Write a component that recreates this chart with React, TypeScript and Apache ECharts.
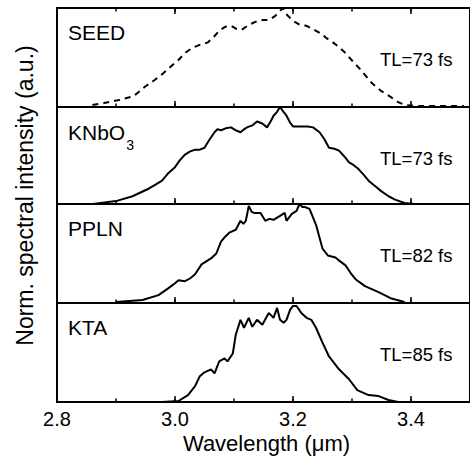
import React, { useEffect, useRef } from "react";
import * as echarts from "echarts";

// ---- data ----
const xTicks = [2.8, 3.0, 3.2, 3.4];
const panelNames = ["SEED", "KNbO3", "PPLN", "KTA"];
const tlLabels = ["TL=73 fs", "TL=73 fs", "TL=82 fs", "TL=85 fs"];

const seedWl = [2.86, 2.88, 2.905, 2.93, 2.95, 2.965, 2.98, 2.993, 3.005, 3.018, 3.03, 3.043, 3.055, 3.066, 3.075, 3.085, 3.095, 3.104, 3.113, 3.125, 3.14, 3.15, 3.16, 3.17, 3.178, 3.183, 3.19, 3.2, 3.212, 3.223, 3.236, 3.248, 3.258, 3.266, 3.277, 3.288, 3.3, 3.314, 3.324, 3.334, 3.35, 3.366, 3.378, 3.39, 3.405, 3.42, 3.45, 3.49];
const seedI = [0.02, 0.04, 0.07, 0.11, 0.21, 0.27, 0.34, 0.41, 0.47, 0.55, 0.6, 0.63, 0.65, 0.71, 0.77, 0.81, 0.82, 0.79, 0.78, 0.83, 0.87, 0.88, 0.88, 0.92, 0.97, 1.0, 0.93, 0.87, 0.83, 0.82, 0.78, 0.74, 0.69, 0.66, 0.61, 0.55, 0.47, 0.38, 0.31, 0.24, 0.16, 0.1, 0.05, 0.02, 0.012, 0.01, 0.01, 0.01];

const knbWl = [2.861, 2.9, 2.928, 2.956, 2.967, 2.978, 2.989, 3.0, 3.008, 3.017, 3.025, 3.034, 3.042, 3.05, 3.058, 3.067, 3.072, 3.078, 3.086, 3.095, 3.103, 3.111, 3.117, 3.122, 3.131, 3.139, 3.148, 3.156, 3.162, 3.167, 3.173, 3.178, 3.184, 3.189, 3.195, 3.2, 3.208, 3.217, 3.225, 3.234, 3.245, 3.253, 3.261, 3.27, 3.278, 3.287, 3.295, 3.303, 3.311, 3.32, 3.328, 3.34, 3.35, 3.362, 3.373, 3.389, 3.406];
const knbI = [0.0, 0.03, 0.08, 0.16, 0.2, 0.24, 0.32, 0.38, 0.45, 0.51, 0.54, 0.56, 0.56, 0.58, 0.66, 0.74, 0.77, 0.76, 0.78, 0.79, 0.76, 0.74, 0.77, 0.79, 0.81, 0.85, 0.83, 0.79, 0.85, 0.91, 0.95, 1.0, 0.95, 0.91, 0.84, 0.8, 0.8, 0.8, 0.8, 0.79, 0.74, 0.67, 0.58, 0.57, 0.55, 0.49, 0.43, 0.4, 0.36, 0.3, 0.24, 0.18, 0.13, 0.08, 0.045, 0.01, 0.0];

const pplnWl = [2.9, 2.945, 2.972, 2.989, 3.0, 3.006, 3.017, 3.026, 3.034, 3.045, 3.053, 3.061, 3.07, 3.078, 3.085, 3.092, 3.103, 3.111, 3.116, 3.12, 3.125, 3.13, 3.134, 3.145, 3.153, 3.16, 3.167, 3.178, 3.186, 3.189, 3.198, 3.206, 3.211, 3.216, 3.22, 3.228, 3.239, 3.25, 3.259, 3.272, 3.28, 3.289, 3.298, 3.306, 3.322, 3.345, 3.367, 3.389];
const pplnI = [0.01, 0.03, 0.08, 0.15, 0.2, 0.23, 0.22, 0.25, 0.29, 0.39, 0.42, 0.45, 0.5, 0.62, 0.67, 0.71, 0.74, 0.83, 0.8, 0.83, 0.98, 0.92, 0.91, 0.91, 0.83, 0.85, 0.84, 0.88, 0.91, 0.83, 0.9, 0.93, 1.0, 0.97, 0.97, 0.95, 0.79, 0.55, 0.48, 0.46, 0.42, 0.38, 0.3, 0.24, 0.17, 0.11, 0.045, 0.01];

const ktaWl = [2.978, 3.006, 3.022, 3.034, 3.042, 3.05, 3.061, 3.067, 3.075, 3.084, 3.089, 3.098, 3.103, 3.111, 3.117, 3.125, 3.131, 3.139, 3.148, 3.159, 3.167, 3.173, 3.178, 3.184, 3.189, 3.195, 3.2, 3.206, 3.214, 3.223, 3.231, 3.239, 3.25, 3.261, 3.278, 3.295, 3.309, 3.328, 3.345, 3.362, 3.378];
const ktaI = [0.0, 0.01, 0.07, 0.16, 0.26, 0.3, 0.33, 0.29, 0.41, 0.44, 0.41, 0.49, 0.68, 0.83, 0.75, 0.85, 0.76, 0.83, 0.78, 0.9, 0.85, 0.95, 0.83, 0.8, 0.83, 0.93, 0.97, 0.97, 0.9, 0.85, 0.83, 0.75, 0.6, 0.46, 0.33, 0.23, 0.12, 0.07, 0.06, 0.02, 0.0];

const seriesWl = [seedWl, knbWl, pplnWl, ktaWl];
const seriesI = [seedI, knbI, pplnI, ktaI];

// ---- layout ----
const FONT = "'Liberation Sans', Arial, Helvetica, sans-serif";
const BOUNDS = [8, 107, 204, 303, 402];
const LEFT = 57;
const WIDTH = 420;

export default function App() {
  const ref = useRef<HTMLDivElement>(null);

  useEffect(() => {
    if (!ref.current) return;
    const chart = echarts.init(ref.current, null, { renderer: "svg" });

    const grids: any[] = [];
    const xAxes: any[] = [];
    const yAxes: any[] = [];
    const series: any[] = [];
    const graphics: any[] = [];

    const mkAxis = (i: number, pos: string, interval: number, len: number, labels: boolean) => ({
      gridIndex: i,
      type: "value",
      position: pos,
      min: 2.8,
      max: 3.5,
      interval,
      axisLine: { show: false },
      axisTick: { show: true, inside: true, length: len, lineStyle: { color: "#000", width: 1.5 } },
      axisLabel: labels
        ? {
            show: true,
            margin: 7,
            fontSize: 20,
            color: "#000",
            fontFamily: FONT,
            showMaxLabel: false,
            formatter: (v: number) => (xTicks.some((t) => Math.abs(t - v) < 1e-6) ? v.toFixed(1) : ""),
          }
        : { show: false },
      splitLine: { show: false },
    });

    for (let i = 0; i < 4; i++) {
      const top = BOUNDS[i];
      const h = BOUNDS[i + 1] - BOUNDS[i];
      grids.push({
        left: LEFT,
        width: WIDTH,
        top,
        height: h,
        show: true,
        borderColor: "#000",
        borderWidth: 2,
        backgroundColor: "transparent",
      });
      const majorIdx = xAxes.length;
      xAxes.push(mkAxis(i, "bottom", 0.2, 6, i === 3));
      xAxes.push(mkAxis(i, "bottom", 0.1, 3.5, false));
      if (i === 0) {
        xAxes.push(mkAxis(i, "top", 0.2, 6, false));
        xAxes.push(mkAxis(i, "top", 0.1, 3.5, false));
      }
      yAxes.push({ gridIndex: i, type: "value", min: 0, max: 1, show: false });

      series.push({
        type: "line",
        xAxisIndex: majorIdx,
        yAxisIndex: i,
        data: seriesWl[i].map((w, k) => [w, seriesI[i][k]]),
        showSymbol: false,
        symbol: "none",
        clip: false,
        lineStyle: { color: "#000", width: 2, type: i === 0 ? [6, 5] : "solid" },
      });

      // panel name
      if (panelNames[i] === "KNbO3") {
        graphics.push({
          type: "text",
          x: 68,
          y: top + 14.5,
          style: {
            text: "{n|KNbO}{s|3}",
            verticalAlign: "top",
            align: "left",
            rich: {
              n: { fontSize: 21, lineHeight: 21, fontFamily: FONT, fill: "#000", verticalAlign: "top" },
              s: { fontSize: 14, lineHeight: 14, fontFamily: FONT, fill: "#000", verticalAlign: "top", padding: [16, 0, 0, 1] },
            },
          },
        });
      } else {
        graphics.push({
          type: "text",
          x: 68,
          y: top + 24,
          style: { text: panelNames[i], fontSize: 21, fontFamily: FONT, fill: "#000", verticalAlign: "middle", align: "left" },
        });
      }
      graphics.push({
        type: "text",
        x: 380,
        y: top + 51,
        style: { text: tlLabels[i], fontSize: 18.5, fontFamily: FONT, fill: "#000", verticalAlign: "middle", align: "left" },
      });
    }

    graphics.push({
      type: "text",
      x: 266.5,
      y: 443,
      style: { text: "Wavelength (\u03bcm)", fontSize: 22, fontFamily: FONT, fill: "#000", verticalAlign: "middle", align: "center" },
    });
    graphics.push({
      type: "text",
      x: 25,
      y: 195.5,
      rotation: Math.PI / 2,
      style: {
        text: "Norm. spectral intensity (a.u.)",
        fontSize: 23,
        fontFamily: FONT,
        fill: "#000",
        verticalAlign: "middle",
        align: "center",
      },
    });

    chart.setOption({
      animation: false,
      backgroundColor: "#fff",
      grid: grids,
      xAxis: xAxes,
      yAxis: yAxes,
      series,
      graphic: graphics,
    });

    return () => chart.dispose();
  }, []);

  return (
    <div
      ref={ref}
      style={{ position: "fixed", left: 0, top: 0, width: 470, height: 464, background: "#fff" }}
    />
  );
}
